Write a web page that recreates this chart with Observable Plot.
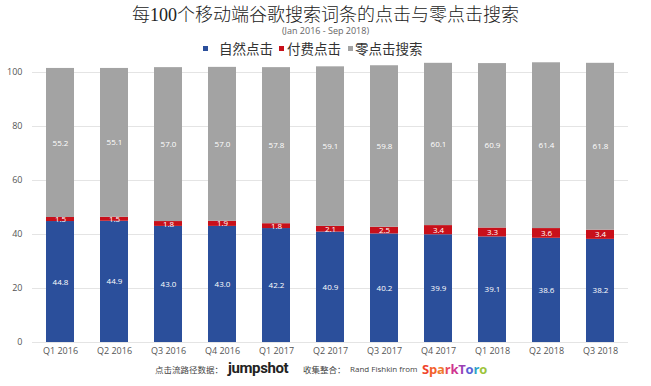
<!DOCTYPE html>
<html><head><meta charset="utf-8">
<script src="https://cdn.jsdelivr.net/npm/d3@7"></script>
<script src="https://cdn.jsdelivr.net/npm/@observablehq/plot@0.6"></script>
<style>
body{margin:0;background:#fff;}
#wrap{position:relative;width:651px;height:386px;overflow:hidden;font-family:"Noto Sans CJK SC","Noto Sans",sans-serif;}
#chart{position:absolute;left:0;top:0;}
.ov{position:absolute;white-space:nowrap;}
#title{left:0;width:651px;top:4px;text-align:center;font-size:18px;color:#222;line-height:22px;font-family:"Liberation Serif","Noto Sans CJK SC",serif;font-weight:300;}
#sub{left:0;width:651px;top:25px;text-align:center;font-size:9px;color:#666;font-family:"Open Sans",sans-serif;line-height:11px;}
.lg{top:39px;font-size:13.5px;color:#333;line-height:18px;}
.sw{width:5px;height:5px;top:46px;}
.cap{top:360px;line-height:18px;}
</style></head>
<body>
<div id="wrap">
<div id="chart"></div>
<div class="ov" id="title">每100个移动端谷歌搜索词条的点击与零点击搜索</div>
<div class="ov" id="sub">(Jan 2016 - Sep 2018)</div>
<div class="ov cap" style="left:155px;font-size:8.5px;color:#444">点击流路径数据：</div>
<div class="ov cap" style="left:228px;top:358px;font-family:Roboto,sans-serif;font-weight:700;font-size:15px;color:#222;letter-spacing:-0.4px;line-height:20px">jumpshot</div>
<div class="ov cap" style="left:303px;font-size:8.5px;color:#444">收集整合：</div>
<div class="ov cap" style="left:350px;font-family:'Open Sans',sans-serif;font-size:8px;color:#444">Rand Fishkin from</div>
<div class="ov cap" id="spark" style="left:422px;top:359px;font-family:'Open Sans',sans-serif;font-weight:700;font-size:13px;line-height:20px;letter-spacing:-0.2px"></div>
</div>
<script>
const quarters = ["Q1 2016","Q2 2016","Q3 2016","Q4 2016","Q1 2017","Q2 2017","Q3 2017","Q4 2017","Q1 2018","Q2 2018","Q3 2018"];
const seriesNames = ["自然点击","付费点击","零点击搜索"];
const organic = [44.8,44.9,43.0,43.0,42.2,40.9,40.2,39.9,39.1,38.6,38.2];
const paid = [1.5,1.5,1.8,1.9,1.8,2.1,2.5,3.4,3.3,3.6,3.4];
const zeroClick = [55.2,55.1,57.0,57.0,57.8,59.1,59.8,60.1,60.9,61.4,61.8];
const seriesColors = ["#2b4f9b","#c8101a","#a3a3a3"];
const yTicks = [0,20,40,60,80,100];

const values = [organic, paid, zeroClick];
const data = [];
quarters.forEach((q,i)=>{
  seriesNames.forEach((s,j)=>data.push({quarter:q, type:s, value:values[j][i]}));
});

// legend (HTML)
const wrap = document.getElementById("wrap");
const lgPos = [[203,219],[279,287],[348,355]];
seriesNames.forEach((s,j)=>{
  const sw = document.createElement("div"); sw.className="ov sw";
  sw.style.left = lgPos[j][0]+"px"; sw.style.background = seriesColors[j];
  wrap.appendChild(sw);
  const t = document.createElement("div"); t.className="ov lg";
  t.style.left = lgPos[j][1]+"px"; t.textContent = s;
  wrap.appendChild(t);
});
// SparkToro logo text
const sp = document.getElementById("spark");
const spColors = ["#f0452c","#f2602b","#f07a2c","#e8485c","#cf3590","#9b3fb5","#5a5fd6","#2fa3c8","#9cc43a"];
"SparkToro".split("").forEach((c,i)=>{const e=document.createElement("span");e.textContent=c;e.style.color=spColors[i];sp.appendChild(e);});

const chart = Plot.plot({
  width: 651,
  height: 386,
  marginLeft: 32,
  marginRight: 23,
  marginTop: 72,
  marginBottom: 44,
  style: {fontFamily: "'Open Sans', sans-serif", background: "transparent"},
  x: {domain: quarters, paddingInner: 0.48, paddingOuter: 0.22, label: null},
  y: {domain: [0,100], ticks: yTicks, label: null},
  color: {domain: seriesNames, range: seriesColors},
  marks: [
    Plot.gridY(yTicks, {stroke: "#e4e4e4", strokeOpacity: 1}),
    Plot.barY(data, {x: "quarter", y: "value", fill: "type", z: "type"}),
    Plot.text(data, Plot.stackY({x: "quarter", y: "value", z: "type", text: d => d.value.toFixed(1), fill: "white", fontSize: 8})),
    Plot.axisX({tickSize: 0, tickPadding: 5, fontSize: 9, color: "#555"}),
    Plot.axisY(yTicks, {tickSize: 0, tickPadding: 10, fontSize: 9, color: "#555"})
  ]
});
document.getElementById("chart").appendChild(chart);
</script>
</body></html>
